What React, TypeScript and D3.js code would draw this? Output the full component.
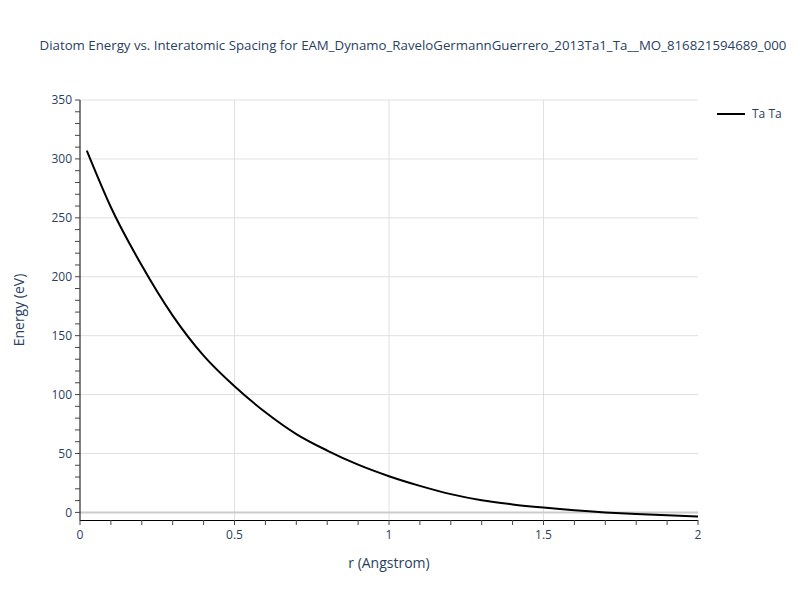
import React, { useEffect, useRef } from "react";
import { select, scaleLinear, line, range, curveMonotoneX } from "d3";

const rValues = [
  0.022, 0.1, 0.2, 0.3, 0.4, 0.5, 0.6, 0.7, 0.8, 0.9, 1.0, 1.1, 1.2, 1.3, 1.4,
  1.5, 1.6, 1.7, 1.8, 1.9, 2.0,
];
const energyValues = [
  307, 259, 209.5, 167, 133, 107, 85, 66.5, 52.5, 40.5, 30.7, 22.5, 15.5, 10.3,
  6.8, 4.1, 1.8, 0, -1.4, -2.5, -3.4,
];
const xTicks = [0, 0.5, 1, 1.5, 2];
const yTicks = [0, 50, 100, 150, 200, 250, 300, 350];
const seriesName = "Ta Ta";
const title =
  "Diatom Energy vs. Interatomic Spacing for EAM_Dynamo_RaveloGermannGuerrero_2013Ta1_Ta__MO_816821594689_000";

const W = 800;
const H = 600;
const margin = { left: 80, right: 102, top: 100, bottom: 80 };
const font = "'Open Sans', verdana, arial, sans-serif";
const textColor = "#2a3f5f";

export default function App() {
  const svgRef = useRef<SVGSVGElement>(null);

  useEffect(() => {
    const svg = select(svgRef.current);
    svg.selectAll("*").remove();

    const x = scaleLinear()
      .domain([0, 2])
      .range([margin.left, W - margin.right]);
    const y = scaleLinear()
      .domain([-6.45, 350])
      .range([H - margin.bottom, margin.top]);

    const [x0, x1] = x.range();
    const [y0, y1] = y.range();

    // grid
    const grid = svg.append("g");
    grid
      .selectAll("line.gx")
      .data(xTicks.filter((d) => d > 0 && d < 2))
      .join("line")
      .attr("x1", (d) => x(d))
      .attr("x2", (d) => x(d))
      .attr("y1", y1)
      .attr("y2", y0)
      .attr("stroke", "#e0e0e0")
      .attr("stroke-width", 1);
    grid
      .selectAll("line.gy")
      .data(yTicks.filter((d) => d > 0))
      .join("line")
      .attr("x1", x0)
      .attr("x2", x1)
      .attr("y1", (d) => y(d))
      .attr("y2", (d) => y(d))
      .attr("stroke", "#e0e0e0")
      .attr("stroke-width", 1);
    // zero line
    grid
      .append("line")
      .attr("x1", x0)
      .attr("x2", x1)
      .attr("y1", y(0))
      .attr("y2", y(0))
      .attr("stroke", "#cccccc")
      .attr("stroke-width", 2);

    // curve
    const pts = rValues.map((r, i) => [r, energyValues[i]] as [number, number]);
    const gen = line<[number, number]>()
      .x((d) => x(d[0]))
      .y((d) => y(d[1]))
      .curve(curveMonotoneX);
    svg
      .append("path")
      .datum(pts)
      .attr("d", gen)
      .attr("fill", "none")
      .attr("stroke", "#000")
      .attr("stroke-width", 2);

    // axes lines
    svg
      .append("line")
      .attr("x1", x0)
      .attr("x2", x0)
      .attr("y1", y1)
      .attr("y2", y0 + 0.5)
      .attr("stroke", "#000");
    svg
      .append("line")
      .attr("x1", x0)
      .attr("x2", x1)
      .attr("y1", y0 + 0.5)
      .attr("y2", y0 + 0.5)
      .attr("stroke", "#000");

    // y ticks
    const yMinor = range(0, 351, 10);
    svg
      .selectAll("line.ymt")
      .data(yMinor)
      .join("line")
      .attr("x1", x0 - 5)
      .attr("x2", x0)
      .attr("y1", (d) => y(d))
      .attr("y2", (d) => y(d))
      .attr("stroke", "#444");
    svg
      .selectAll("text.yt")
      .data(yTicks)
      .join("text")
      .attr("x", x0 - 8)
      .attr("y", (d) => y(d))
      .attr("dy", "0.35em")
      .attr("text-anchor", "end")
      .attr("font-family", font)
      .attr("font-size", 12)
      .attr("fill", textColor)
      .text((d) => d);

    // x ticks
    const xMinor = range(0, 21).map((i) => i / 10);
    svg
      .selectAll("line.xmt")
      .data(xMinor)
      .join("line")
      .attr("x1", (d) => x(d))
      .attr("x2", (d) => x(d))
      .attr("y1", y0)
      .attr("y2", y0 + 5)
      .attr("stroke", "#444");
    svg
      .selectAll("text.xt")
      .data(xTicks)
      .join("text")
      .attr("x", (d) => x(d))
      .attr("y", y0 + 19)
      .attr("text-anchor", "middle")
      .attr("font-family", font)
      .attr("font-size", 12)
      .attr("fill", textColor)
      .text((d) => d);

    // axis titles
    svg
      .append("text")
      .attr("x", (x0 + x1) / 2)
      .attr("y", 568)
      .attr("text-anchor", "middle")
      .attr("font-family", font)
      .attr("font-size", 14)
      .attr("fill", textColor)
      .text("r (Angstrom)");
    svg
      .append("text")
      .attr("transform", `translate(24, ${(y0 + y1) / 2}) rotate(-90)`)
      .attr("text-anchor", "middle")
      .attr("font-family", font)
      .attr("font-size", 14)
      .attr("fill", textColor)
      .text("Energy (eV)");

    // title
    svg
      .append("text")
      .attr("x", 413)
      .attr("y", 50)
      .attr("text-anchor", "middle")
      .attr("font-family", font)
      .attr("font-size", 13.25)
      .attr("fill", textColor)
      .text(title);

    // legend
    const lg = svg.append("g").attr("transform", "translate(717, 114)");
    lg.append("line")
      .attr("x1", 0)
      .attr("x2", 28)
      .attr("stroke", "#000")
      .attr("stroke-width", 2);
    lg.append("text")
      .attr("x", 35)
      .attr("dy", "0.35em")
      .attr("font-family", font)
      .attr("font-size", 12)
      .attr("fill", textColor)
      .text(seriesName);
  }, []);

  return (
    <svg
      ref={svgRef}
      width={W}
      height={H}
      style={{ position: "absolute", left: 0, top: 0, background: "#fff" }}
    />
  );
}
